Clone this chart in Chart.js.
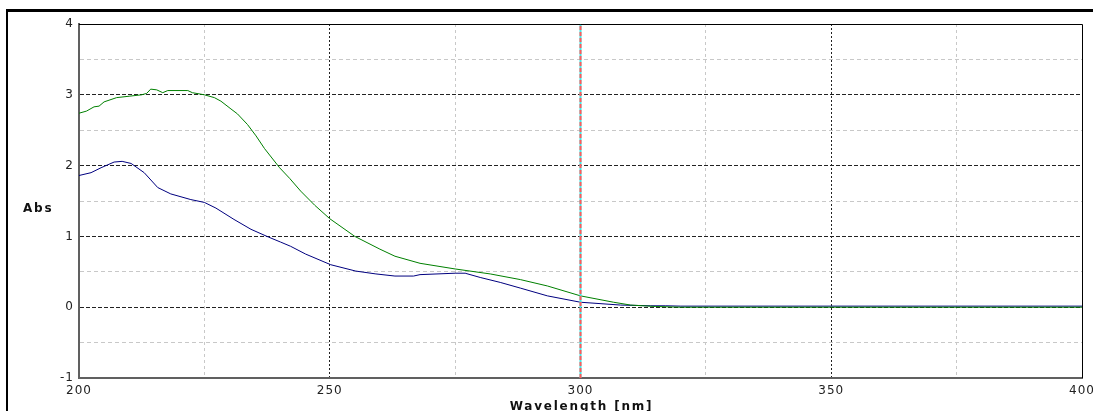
<!DOCTYPE html>
<html lang="en">
<head>
<meta charset="UTF-8">
<title>spektrum</title>
<style>body{margin:0;background:#fff}</style>
</head>
<body>
<canvas id="spec" width="1093" height="411"></canvas>
<script src="https://cdn.jsdelivr.net/npm/chart.js"></script>
<script>
// aflaest fra billedet
const wlGreen  = [200, 201.5, 203, 204, 205, 207.5, 210, 212.5, 213.5, 214.3, 215.5, 216.7, 217.7, 221.7, 222.6, 225, 227, 228.3, 230.3, 231.6, 233.6, 235.3, 237, 240, 242, 244.2, 247, 250, 255, 260, 263, 268, 275, 282, 288, 293.4, 300, 306.6, 310, 315, 320, 400];
const absGreen = [2.74, 2.77, 2.83, 2.84, 2.9, 2.96, 2.98, 3.0, 3.02, 3.08, 3.07, 3.03, 3.06, 3.06, 3.03, 3.0, 2.96, 2.91, 2.8, 2.73, 2.58, 2.42, 2.24, 1.97, 1.82, 1.64, 1.44, 1.25, 1.0, 0.82, 0.72, 0.62, 0.54, 0.47, 0.39, 0.3, 0.16, 0.07, 0.03, 0.01, 0, 0];
const wlBlue   = [200, 202.4, 204.4, 207, 208.6, 210.4, 213, 215.7, 218.3, 222.3, 225, 227.3, 230.9, 234.3, 237.8, 240.2, 242.2, 245.2, 250.2, 255.2, 259.2, 263, 266.7, 268, 275, 277, 280, 284, 288, 293.4, 300, 308, 314, 317, 320, 400];
const absBlue  = [1.86, 1.9, 1.97, 2.05, 2.06, 2.03, 1.9, 1.69, 1.6, 1.52, 1.48, 1.4, 1.24, 1.1, 0.99, 0.92, 0.86, 0.75, 0.6, 0.51, 0.47, 0.44, 0.44, 0.46, 0.48, 0.48, 0.42, 0.35, 0.27, 0.16, 0.07, 0.03, 0.02, 0.02, 0.015, 0.015];
const cursorWl = 300;
const xTicks = [200, 250, 300, 350, 400];
const yTicks = [-1, 0, 1, 2, 3, 4];

function punkter(xs, ys){
    return xs.map((x, i) => ({x: x, y: ys[i]}));
}

// ramme, titler og bogstavafstand
const ramme = {
    id: 'ramme',
    beforeLayout(chart){ chart.ctx.letterSpacing = '1px'; },
    beforeDraw(chart){
        const c = chart.ctx;
        c.save();
        c.fillStyle = '#fff';
        c.fillRect(0, 0, chart.width, chart.height);
        c.restore();
        c.letterSpacing = '1px';
    },
    afterDraw(chart){
        const c = chart.ctx;
        const a = chart.chartArea;
        c.save();
        // plot kant top + hoejre
        c.strokeStyle = '#000';
        c.lineWidth = 1;
        c.beginPath();
        c.moveTo(a.left, a.top + 0.5);
        c.lineTo(a.right + 0.5, a.top + 0.5);
        c.lineTo(a.right + 0.5, a.bottom);
        c.stroke();
        // ydre ramme
        c.fillStyle = '#000';
        c.fillRect(6, 9, chart.width - 6, 3);
        c.fillRect(6, 9, 2, chart.height - 9);
        // titler
        c.font = 'bold 12px "DejaVu Sans"';
        c.letterSpacing = '1.8px';
        c.fillStyle = '#111';
        c.textBaseline = 'middle';
        c.textAlign = 'left';
        c.fillText('Abs', 23, 209);
        c.textAlign = 'center';
        c.fillText('Wavelength [nm]', (a.left + a.right) / 2 + 1, 407);
        c.restore();
    }
};

const ctx = document.getElementById('spec');
new Chart(ctx, {
    type: 'line',
    data: {
        datasets: [
            {data: punkter([cursorWl, cursorWl], [-1, 4]), borderColor: '#ff5a5a', borderWidth: 2, borderDash: [4, 2], pointRadius: 0},
            {data: punkter([cursorWl, cursorWl], [-1, 4]), borderColor: '#3ee6e6', borderWidth: 2, pointRadius: 0},
            {data: punkter(wlGreen, absGreen), borderColor: '#008000', borderWidth: 1, pointRadius: 0, tension: 0},
            {data: punkter(wlBlue, absBlue), borderColor: '#00007f', borderWidth: 1, pointRadius: 0, tension: 0}
        ]
    },
    options: {
        responsive: false,
        animation: false,
        parsing: false,
        layout: {padding: {top: 24, right: 11, left: 0, bottom: 0}},
        plugins: {legend: {display: false}, tooltip: {enabled: false}},
        scales: {
            x: {
                type: 'linear', min: 200, max: 400,
                afterFit(s){ s.height = 33; s.paddingLeft = 0; s.paddingRight = 0; },
                ticks: {
                    stepSize: 25, autoSkip: false, maxRotation: 0, padding: 6,
                    color: '#222', font: {family: 'DejaVu Sans', size: 12},
                    callback: v => xTicks.includes(v) ? v : ''
                },
                grid: {
                    drawTicks: false,
                    color: c => {
                        const v = c.tick ? c.tick.value : null;
                        if (v === 200 || v === 400 || v === cursorWl) return 'rgba(0,0,0,0)';
                        return xTicks.includes(v) ? '#222' : '#c8c8c8';
                    }
                },
                border: {
                    color: '#606060', width: 2,
                    dash: c => (c.tick && xTicks.includes(c.tick.value)) ? [2, 2] : [3, 3]
                }
            },
            y: {
                min: -1, max: 4,
                afterFit(s){ s.width = 79; },
                ticks: {
                    stepSize: 0.5, autoSkip: false, padding: 5,
                    color: '#222', font: {family: 'DejaVu Sans', size: 12},
                    callback: v => yTicks.includes(v) ? v : ''
                },
                grid: {
                    drawTicks: false,
                    color: c => {
                        const v = c.tick ? c.tick.value : null;
                        if (v === -1 || v === 4) return 'rgba(0,0,0,0)';
                        return yTicks.includes(v) ? '#222' : '#c8c8c8';
                    }
                },
                border: {
                    color: '#606060', width: 2,
                    dash: c => (c.tick && yTicks.includes(c.tick.value)) ? [4, 2] : [4, 3]
                }
            }
        }
    },
    plugins: [ramme]
});
</script>
</body>
</html>
